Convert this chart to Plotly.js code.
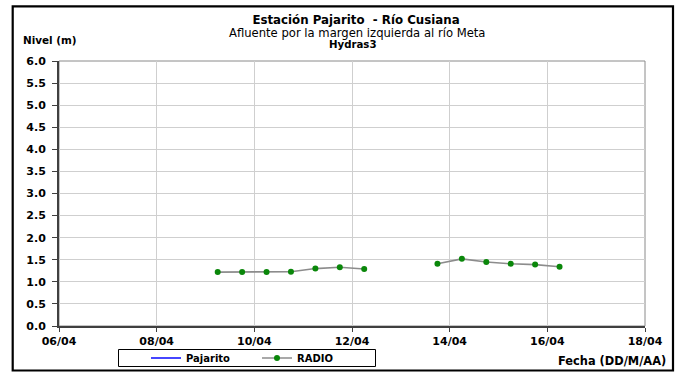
<!DOCTYPE html>
<html><head><meta charset="utf-8">
<script src="https://cdn.plot.ly/plotly-3.0.1.min.js"></script>
<style>html,body{margin:0;padding:0;background:#fff;overflow:hidden}</style>
</head><body><div id="chart" style="width:679px;height:373px"></div>
<script>
// ---- data ----
const titleLines = ['Estación Pajarito  - Río Cusiana', 'Afluente por la margen izquierda al río Meta', 'Hydras3'];
const yAxisLabel = 'Nivel (m)';
const xAxisLabel = 'Fecha (DD/M/AA)';
const seriesNames = ['Pajarito', 'RADIO'];
const pajaritoDates = [null];   // no Pajarito readings in this window
const pajaritoLevels = [null];
const radioDates = ['2013-04-09 06:00','2013-04-09 18:00','2013-04-10 06:00','2013-04-10 18:00',
  '2013-04-11 06:00','2013-04-11 18:00','2013-04-12 06:00','2013-04-12 18:00','2013-04-13 06:00',
  '2013-04-13 18:00','2013-04-14 06:00','2013-04-14 18:00','2013-04-15 06:00','2013-04-15 18:00',
  '2013-04-16 06:00'];
const radioLevels = [1.22,1.22,1.22,1.23,1.30,1.33,1.29,null,null,1.41,1.52,1.45,1.41,1.39,1.34];
const xTickVals = ['2013-04-06','2013-04-08','2013-04-10','2013-04-12','2013-04-14','2013-04-16','2013-04-18'];
const xTickText = ['06/04','08/04','10/04','12/04','14/04','16/04','18/04'];
const yTickVals = [0,0.5,1,1.5,2,2.5,3,3.5,4,4.5,5,5.5,6];
const yTickText = ['0.0','0.5','1.0','1.5','2.0','2.5','3.0','3.5','4.0','4.5','5.0','5.5','6.0'];

// ---- layout helpers ----
const W = 679, H = 373;
const M = {l: 59, r: 34, t: 61, b: 47, autoexpand: false};
const PW = W - M.l - M.r, PH = H - M.t - M.b;
const px = x => (x - M.l) / PW;
const py = y => (H - M.b - y) / PH;
const FONT = 'DejaVu Sans, Liberation Sans, Arial, sans-serif';

const traces = [
  {x: pajaritoDates, y: pajaritoLevels, name: seriesNames[0], type: 'scatter', mode: 'lines',
   line: {color: '#4646ff', width: 2}},
  {x: radioDates, y: radioLevels, name: seriesNames[1], type: 'scatter', mode: 'lines+markers',
   connectgaps: false, line: {color: '#8c8c8c', width: 1.6},
   marker: {color: '#0a870a', size: 6, line: {width: 0}}}
];

const layout = {
  width: W, height: H, margin: M,
  paper_bgcolor: '#fff', plot_bgcolor: '#fff',
  font: {family: FONT, color: '#000', size: 11},
  title: {text: titleLines[0], font: {family: FONT, size: 11.8, weight: 'bold', color: '#000'},
          x: 356 / W, xanchor: 'center', y: 1 - 19.6 / H, yanchor: 'middle', xref: 'container', yref: 'container'},
  showlegend: true,
  legend: {orientation: 'h', x: px(146), y: py(358), xanchor: 'left', yanchor: 'middle',
           bgcolor: 'rgba(0,0,0,0)', borderwidth: 0, entrywidth: 66, entrywidthmode: 'pixels',
           font: {family: FONT, size: 10, weight: 'bold', color: '#000'}},
  xaxis: {type: 'date', range: [xTickVals[0], xTickVals[xTickVals.length - 1]],
          tickmode: 'array', tickvals: xTickVals, ticktext: xTickText,
          showgrid: true, gridcolor: '#cfcfcf', gridwidth: 1,
          showline: true, linecolor: '#404040', linewidth: 2,
          ticks: 'outside', ticklen: 4, tickwidth: 1, tickcolor: '#404040',
          tickfont: {family: FONT, size: 11, weight: 'bold', color: '#000'},
          zeroline: false, fixedrange: true},
  yaxis: {range: [0, 6], tickmode: 'array', tickvals: yTickVals, ticktext: yTickText,
          showgrid: true, gridcolor: '#cfcfcf', gridwidth: 1,
          showline: true, linecolor: '#404040', linewidth: 2,
          ticks: 'outside', ticklen: 5, tickwidth: 1, tickcolor: '#404040',
          tickfont: {family: FONT, size: 11, weight: 'bold', color: '#000'},
          ticklabelstandoff: 4,
          zeroline: false, fixedrange: true},
  shapes: [
    {type: 'rect', xref: 'paper', yref: 'paper', x0: 0, x1: 1, y0: 0, y1: 1,
     line: {color: '#8a8a8a', width: 1}, layer: 'between'},
    {type: 'rect', xref: 'paper', yref: 'paper', x0: px(12.7), x1: px(673), y0: py(370.5), y1: py(6.3),
     line: {color: '#000', width: 2.2}},
    {type: 'rect', xref: 'paper', yref: 'paper', x0: px(118.5), x1: px(375.5), y0: py(366.5), y1: py(349.5),
     line: {color: '#000', width: 1}}
  ],
  annotations: [
    {text: titleLines[1], xref: 'paper', yref: 'paper', x: px(357), y: py(32.6), xanchor: 'center', yanchor: 'middle',
     showarrow: false, font: {family: FONT, size: 11.6, color: '#000'}},
    {text: titleLines[2], xref: 'paper', yref: 'paper', x: px(353), y: py(44), xanchor: 'center', yanchor: 'middle',
     showarrow: false, font: {family: FONT, size: 10.2, weight: 'bold', color: '#000'}},
    {text: yAxisLabel, xref: 'paper', yref: 'paper', x: px(20.5), y: py(40), xanchor: 'left', yanchor: 'middle',
     showarrow: false, font: {family: FONT, size: 10.4, weight: 'bold', color: '#000'}},
    {text: xAxisLabel, xref: 'paper', yref: 'paper', x: px(668), y: py(361), xanchor: 'right', yanchor: 'middle',
     showarrow: false, font: {family: FONT, size: 11.4, weight: 'bold', color: '#000'}}
  ]
};

Plotly.newPlot('chart', traces, layout, {staticPlot: true, displayModeBar: false});
</script>
</body></html>
